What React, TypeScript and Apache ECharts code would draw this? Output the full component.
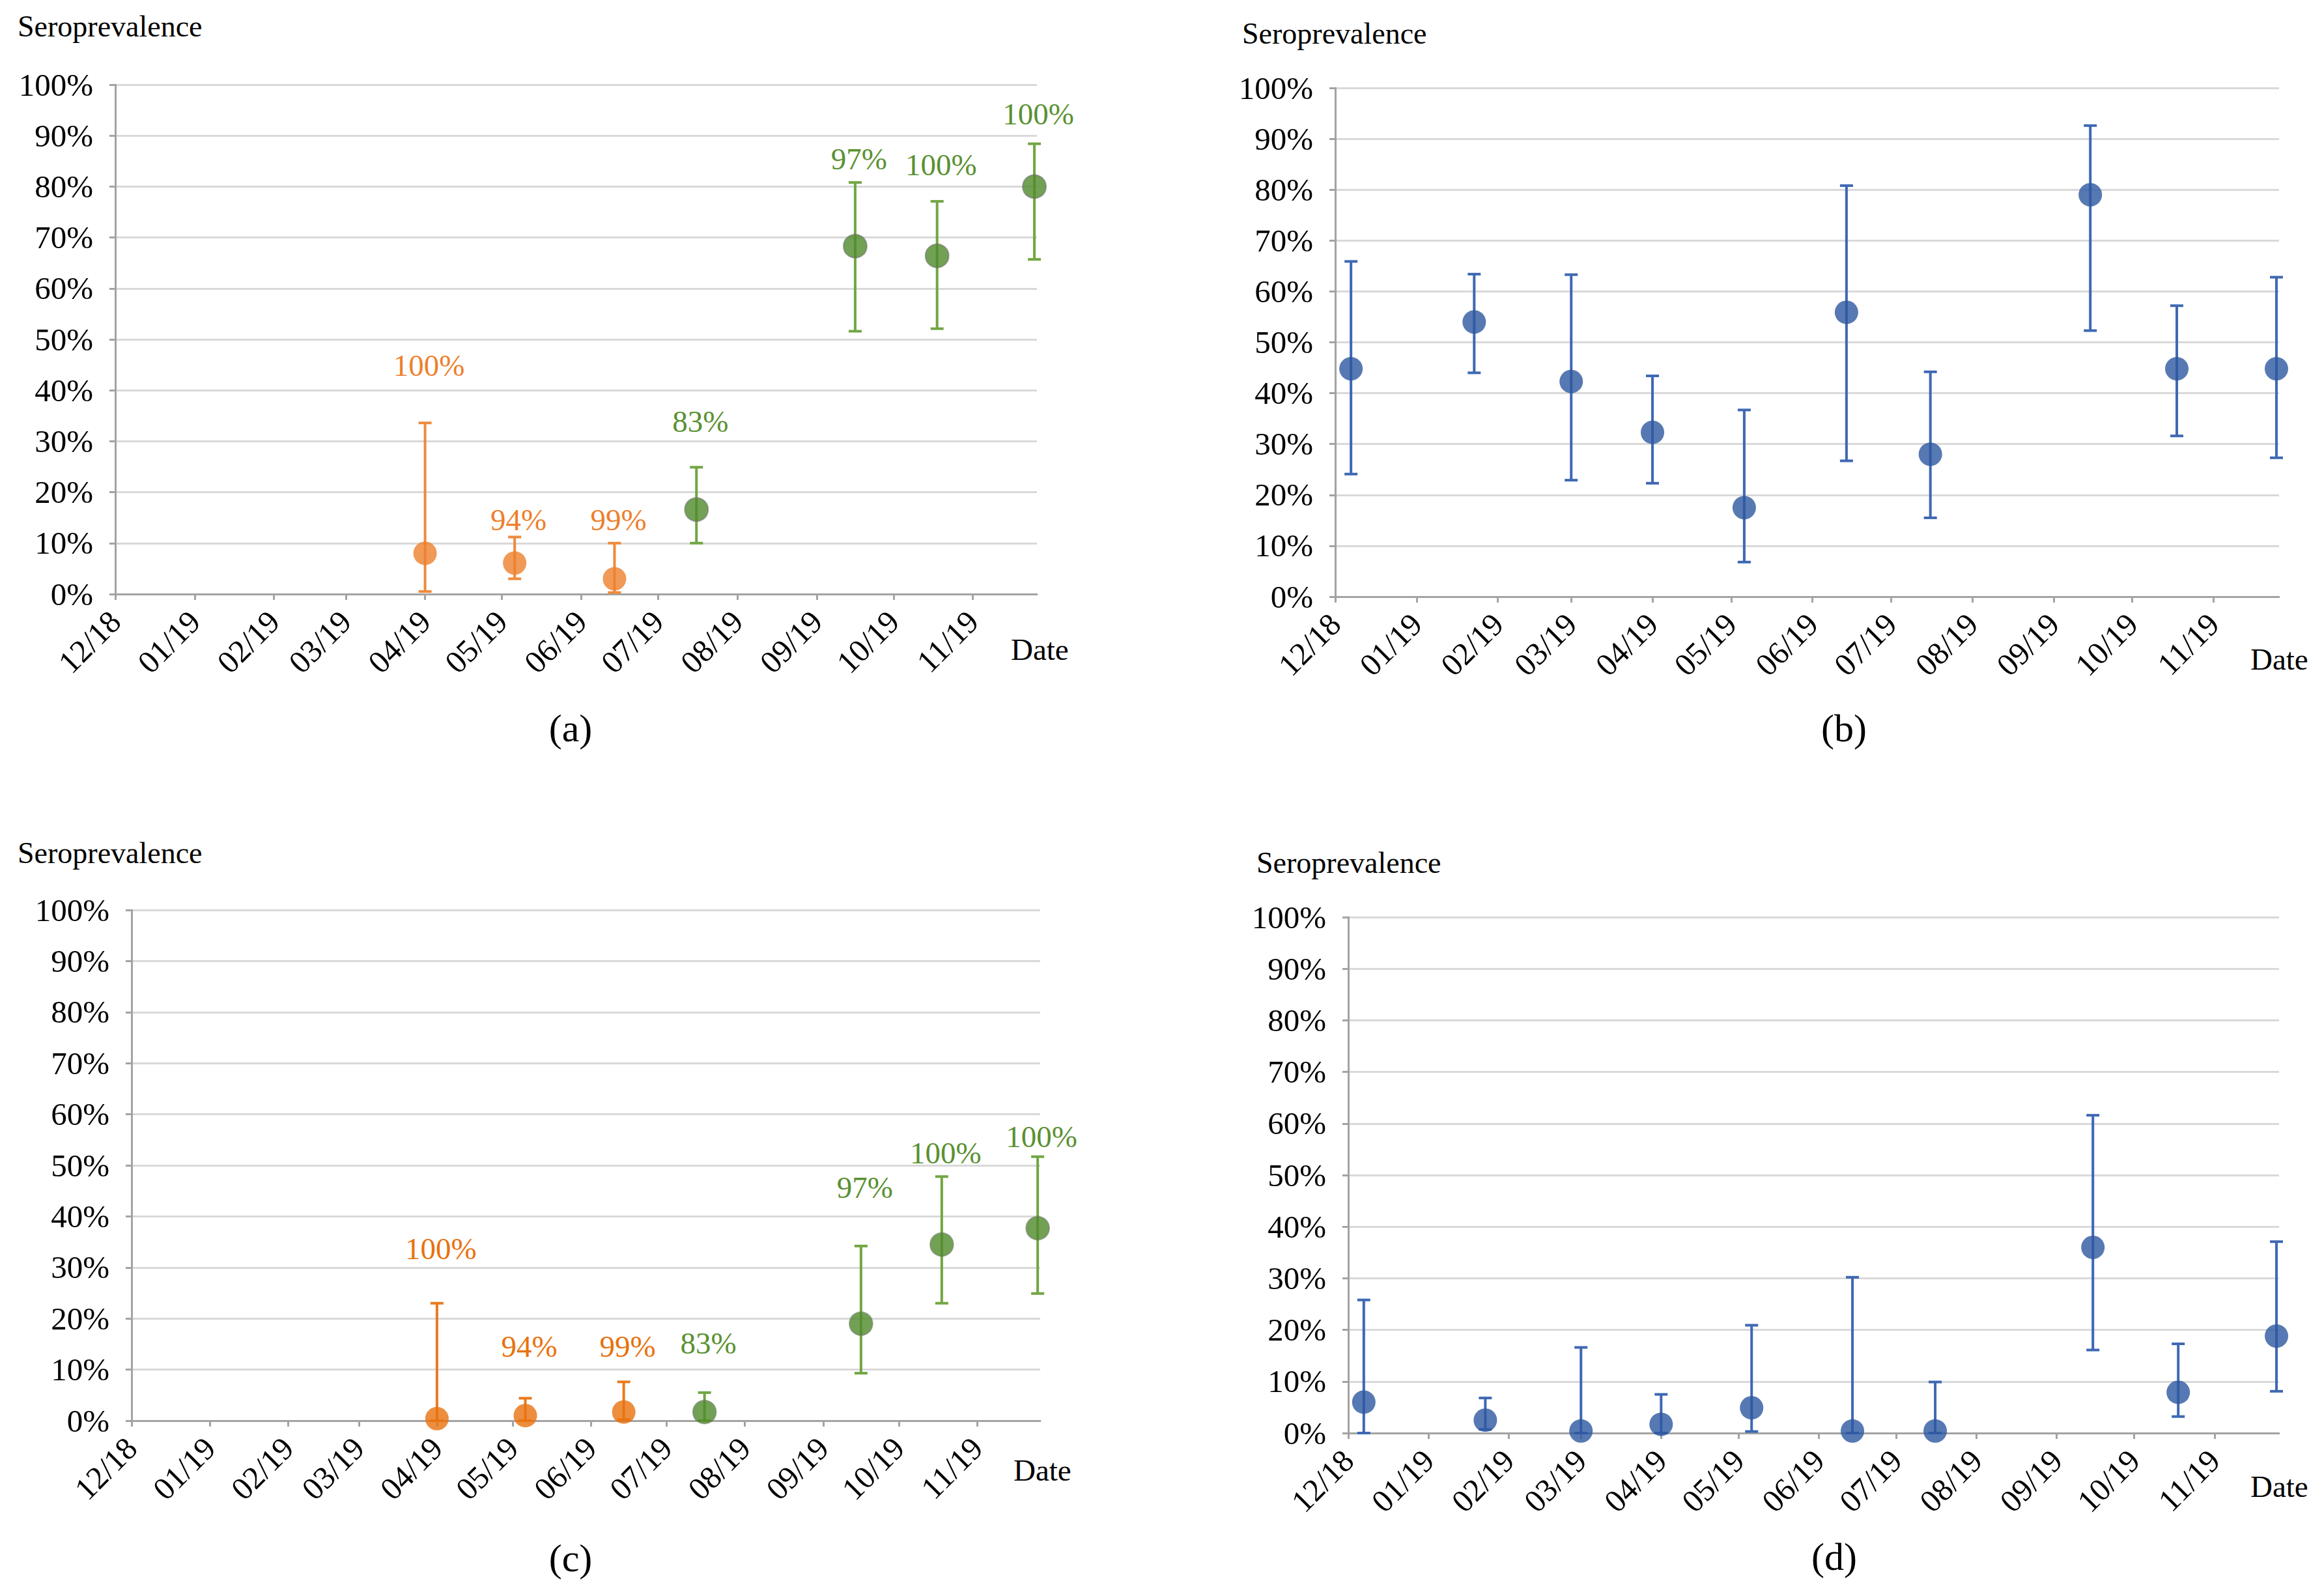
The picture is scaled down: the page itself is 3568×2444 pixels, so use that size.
import React, { useEffect, useRef } from "react";
import * as echarts from "echarts";

// ---------- axis data ----------
const axisStart = "2018-12-01";
const axisEnd = "2019-11-26";
const monthStarts = [
  "2018-12-01", "2019-01-01", "2019-02-01", "2019-03-01", "2019-04-01", "2019-05-01",
  "2019-06-01", "2019-07-01", "2019-08-01", "2019-09-01", "2019-10-01", "2019-11-01",
];
const monthLabels = ["12/18", "01/19", "02/19", "03/19", "04/19", "05/19", "06/19", "07/19", "08/19", "09/19", "10/19", "11/19"];

// ---------- panels (a) and (c) ----------
const datesAC = ["2019-04-01", "2019-05-06", "2019-06-14", "2019-07-16", "2019-09-16", "2019-10-18", "2019-11-25"];
const groupAC = ["early", "early", "early", "late", "late", "late", "late"];
const coverageLabelsAC = ["100%", "94%", "99%", "83%", "97%", "100%", "100%"];

const aValues = [8.0, 6.1, 3.0, 16.6, 68.3, 66.4, 80.0];
const aLow = [0.5, 3.0, 0.3, 10.0, 51.6, 52.1, 65.7];
const aHigh = [33.6, 11.2, 10.0, 24.9, 80.8, 77.1, 88.4];
const aLabelAt = [44.9, 14.6, 14.6, 33.9, 85.4, 84.3, 94.2];

const cValues = [0.4, 1.0, 1.7, 1.7, 19.0, 34.5, 37.7];
const cLow = [0, 0, 0.2, 0, 9.3, 23.0, 24.9];
const cHigh = [23.0, 4.4, 7.6, 5.5, 34.2, 47.8, 51.7];
const cLabelAt = [33.7, 14.6, 14.6, 15.2, 45.7, 52.4, 55.6];

// ---------- panels (b) and (d) ----------
const datesBD = ["2018-12-07", "2019-01-23", "2019-03-01", "2019-04-01", "2019-05-06", "2019-06-14", "2019-07-16", "2019-09-15", "2019-10-18", "2019-11-25"];

const bValues = [44.8, 54.0, 42.3, 32.3, 17.5, 55.9, 28.0, 79.0, 44.8, 44.8];
const bLow = [24.1, 44.0, 22.9, 22.3, 6.8, 26.7, 15.5, 52.3, 31.6, 27.3];
const bHigh = [65.9, 63.4, 63.3, 43.4, 36.7, 80.8, 44.2, 92.6, 57.2, 62.8];

const dValues = [6.0, 2.5, 0.4, 1.7, 4.9, 0.4, 0.4, 36.0, 7.9, 18.8];
const dLow = [0, 0.7, 0, 0, 0.3, 0, 0, 16.1, 3.2, 8.1];
const dHigh = [25.8, 6.8, 16.6, 7.5, 20.9, 30.2, 9.9, 61.6, 17.3, 37.1];

// ---------- helpers ----------
const FONT = "'Liberation Serif', 'Times New Roman', serif";
const baseUTC = (() => {
  const [y, m, d] = axisStart.split("-").map(Number);
  return Date.UTC(y, m - 1, d);
})();
function dayOf(s: string): number {
  const [y, m, d] = s.split("-").map(Number);
  return Math.round((Date.UTC(y, m - 1, d) - baseUTC) / 86400000);
}
const monthDays = monthStarts.map(dayOf);
const maxDay = dayOf(axisEnd);

const COLORS = {
  aEarlyMarker: "#EE7F2D",
  aEarlyBar: "#EF8A3C",
  cEarlyMarker: "#E8720F",
  cEarlyBar: "#EA7A1F",
  lateMarker: "#4F8A2B",
  lateBar: "#72A644",
  lateText: "#5A9132",
  blueMarker: "#2D58A0",
  blueBar: "#3E68B3",
  axis: "#A3A3A3",
  grid: "#D9D9D9",
};

const grids = [
  { left: 177, top: 130, width: 1415, height: 782 },
  { left: 2050, top: 135, width: 1449, height: 781 },
  { left: 202, top: 1397, width: 1395, height: 784 },
  { left: 2070, top: 1408, width: 1429, height: 792 },
];

function errorSeries(idx: number, dates: string[], low: number[], high: number[], sel: number[], color: string) {
  return {
    type: "custom",
    xAxisIndex: idx,
    yAxisIndex: idx,
    z: 2,
    silent: true,
    clip: false,
    encode: { x: 0, y: [1, 2] },
    data: sel.map((i) => [dayOf(dates[i]), low[i], high[i]]),
    renderItem: (params: any, api: any) => {
      const x = api.value(0);
      const pLo = api.coord([x, api.value(1)]);
      const pHi = api.coord([x, api.value(2)]);
      const cap = 10;
      const style = { stroke: color, lineWidth: 4 };
      return {
        type: "group",
        children: [
          { type: "line", shape: { x1: pLo[0], y1: pLo[1], x2: pHi[0], y2: pHi[1] }, style },
          { type: "line", shape: { x1: pLo[0] - cap, y1: pLo[1], x2: pLo[0] + cap, y2: pLo[1] }, style },
          { type: "line", shape: { x1: pHi[0] - cap, y1: pHi[1], x2: pHi[0] + cap, y2: pHi[1] }, style },
        ],
      };
    },
  };
}

function markerSeries(idx: number, dates: string[], values: number[], sel: number[], color: string, border?: string) {
  return {
    type: "scatter",
    xAxisIndex: idx,
    yAxisIndex: idx,
    z: 3,
    silent: true,
    symbol: "circle",
    symbolSize: 36,
    itemStyle: border ? { color, borderColor: border, borderWidth: 2 } : { color },
    data: sel.map((i) => [dayOf(dates[i]), values[i]]),
  };
}

function labelSeries(idx: number, dates: string[], at: number[], texts: string[], colors: string[]) {
  return {
    type: "custom",
    xAxisIndex: idx,
    yAxisIndex: idx,
    z: 4,
    silent: true,
    clip: false,
    encode: { x: 0, y: 1 },
    data: dates.map((d, i) => [dayOf(d), at[i]]),
    renderItem: (params: any, api: any) => {
      const p = api.coord([api.value(0), api.value(1)]);
      const i = params.dataIndex;
      return {
        type: "text",
        x: p[0] + 6,
        y: p[1],
        style: {
          text: texts[i],
          fill: colors[i],
          fontSize: 47,
          fontFamily: FONT,
          align: "center",
          verticalAlign: "middle",
        },
      };
    },
  };
}

function indicesOf(groups: string[], g: string) {
  const out: number[] = [];
  groups.forEach((v, i) => {
    if (v === g) out.push(i);
  });
  return out;
}

function buildOption() {
  const xAxes = grids.map((_, i) => ({
    gridIndex: i,
    type: "value",
    min: 0,
    max: maxDay,
    axisLine: { show: true, onZero: false, lineStyle: { color: COLORS.axis, width: 3 } },
    axisTick: { show: true, length: 9, customValues: monthDays, lineStyle: { color: COLORS.axis, width: 3 } },
    axisLabel: {
      customValues: monthDays,
      rotate: 45,
      margin: 34,
      fontSize: 49,
      fontFamily: FONT,
      color: "#000",
      hideOverlap: false,
      formatter: (v: number) => {
        const k = monthDays.indexOf(Math.round(v));
        return k >= 0 ? monthLabels[k] : "";
      },
    },
    splitLine: { show: false },
  }));
  const yAxes = grids.map((_, i) => ({
    gridIndex: i,
    type: "value",
    min: 0,
    max: 100,
    interval: 10,
    axisLine: { show: true, lineStyle: { color: COLORS.axis, width: 3 } },
    axisTick: { show: true, length: 9, lineStyle: { color: COLORS.axis, width: 3 } },
    axisLabel: { formatter: "{value}%", fontSize: 49, margin: 34, color: "#000", fontFamily: FONT },
    splitLine: { show: true, lineStyle: { color: COLORS.grid, width: 3 } },
  }));

  const early = indicesOf(groupAC, "early");
  const late = indicesOf(groupAC, "late");
  const allBD = datesBD.map((_, i) => i);

  const aTextColors = groupAC.map((g) => (g === "early" ? COLORS.aEarlyMarker : COLORS.lateText));
  const cTextColors = groupAC.map((g) => (g === "early" ? COLORS.cEarlyMarker : COLORS.lateText));

  const series: any[] = [
    // (a)
    errorSeries(0, datesAC, aLow, aHigh, early, COLORS.aEarlyBar),
    errorSeries(0, datesAC, aLow, aHigh, late, COLORS.lateBar),
    markerSeries(0, datesAC, aValues, early, COLORS.aEarlyMarker),
    markerSeries(0, datesAC, aValues, late, COLORS.lateMarker, "rgba(110,110,110,0.7)"),
    labelSeries(0, datesAC, aLabelAt, coverageLabelsAC, aTextColors),
    // (b)
    errorSeries(1, datesBD, bLow, bHigh, allBD, COLORS.blueBar),
    markerSeries(1, datesBD, bValues, allBD, COLORS.blueMarker),
    // (c)
    errorSeries(2, datesAC, cLow, cHigh, early, COLORS.cEarlyBar),
    errorSeries(2, datesAC, cLow, cHigh, late, COLORS.lateBar),
    markerSeries(2, datesAC, cValues, early, COLORS.cEarlyMarker),
    markerSeries(2, datesAC, cValues, late, COLORS.lateMarker, "rgba(110,110,110,0.5)"),
    labelSeries(2, datesAC, cLabelAt, coverageLabelsAC, cTextColors),
    // (d)
    errorSeries(3, datesBD, dLow, dHigh, allBD, COLORS.blueBar),
    markerSeries(3, datesBD, dValues, allBD, COLORS.blueMarker),
  ];

  const txt = (text: string, x: number, y: number, size: number, align = "left") => ({
    type: "text",
    x,
    y,
    silent: true,
    style: { text, fill: "#000", fontSize: size, fontFamily: FONT, align, verticalAlign: "middle" },
  });

  const graphic = [
    txt("Seroprevalence", 27, 40, 46),
    txt("Seroprevalence", 1907, 51, 46),
    txt("Seroprevalence", 27, 1309, 46),
    txt("Seroprevalence", 1929, 1324, 46),
    txt("Date", 1552, 997, 47),
    txt("Date", 3455, 1012, 47),
    txt("Date", 1556, 2257, 47),
    txt("Date", 3455, 2282, 47),
    txt("(a)", 876, 1118, 60, "center"),
    txt("(b)", 2831, 1118, 60, "center"),
    txt("(c)", 876, 2392, 60, "center"),
    txt("(d)", 2816, 2390, 60, "center"),
  ];

  return {
    animation: false,
    backgroundColor: "#ffffff",
    grid: grids.map((g) => ({ ...g, containLabel: false })),
    xAxis: xAxes,
    yAxis: yAxes,
    series,
    graphic,
  };
}

export default function App() {
  const ref = useRef<HTMLDivElement>(null);
  useEffect(() => {
    if (!ref.current) return;
    const chart = echarts.init(ref.current, undefined, { renderer: "svg" });
    chart.setOption(buildOption() as any);
    return () => chart.dispose();
  }, []);
  return (
    <div
      ref={ref}
      style={{ position: "fixed", left: 0, top: 0, width: 3568, height: 2444, background: "#fff" }}
    />
  );
}
